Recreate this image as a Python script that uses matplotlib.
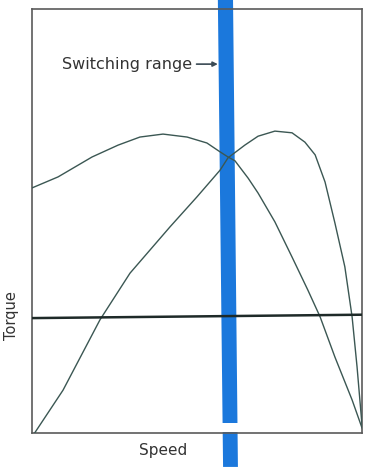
import matplotlib.pyplot as plt

# curves (speed 0..1, torque 0..1)
speed_a = [0.0, 0.079, 0.182, 0.261, 0.327, 0.397, 0.470, 0.530, 0.570, 0.594, 0.615,
           0.655, 0.685, 0.736, 0.788, 0.836, 0.873, 0.918, 0.970, 1.0]
torque_a = [0.578, 0.604, 0.651, 0.679, 0.698, 0.705, 0.698, 0.684, 0.663, 0.651, 0.642,
            0.601, 0.566, 0.498, 0.415, 0.337, 0.274, 0.179, 0.078, 0.012]

speed_b = [0.008, 0.094, 0.206, 0.297, 0.418, 0.500, 0.570, 0.594, 0.645, 0.685, 0.736,
           0.788, 0.827, 0.858, 0.888, 0.918, 0.948, 0.970, 0.985, 1.0]
torque_b = [0.0, 0.101, 0.267, 0.377, 0.486, 0.557, 0.620, 0.649, 0.679, 0.700, 0.712,
            0.708, 0.686, 0.656, 0.592, 0.495, 0.392, 0.274, 0.156, 0.019]

load_speed = [0.0, 1.0]
load_torque = [0.271, 0.279]

# switching range band (edges at top and bottom)
switch_y = [1.035, -0.08]
switch_left = [0.563, 0.579]
switch_right = [0.609, 0.624]

line_col = '#3b5753'
fig = plt.figure(figsize=(3.65, 4.67), dpi=100)
ax = fig.add_axes([32 / 365, 34 / 467, 330 / 365, 424 / 467])
ax.set_xlim(0, 1)
ax.set_ylim(0, 1)

blue = '#1b78dc'
ax.fill_betweenx(switch_y, switch_left, switch_right, color=blue, clip_on=False, zorder=1, lw=0)
# small white gap just above the speed axis
ax.fill_betweenx([0.023, 0.003], [0.55, 0.55], [0.64, 0.64], color='white', zorder=1.5, lw=0, clip_on=False)

ax.plot(speed_a, torque_a, color=line_col, lw=1.0, zorder=3)
ax.plot(speed_b, torque_b, color=line_col, lw=1.0, zorder=3)
ax.plot(load_speed, load_torque, color='#1e2a28', lw=1.8, zorder=3)

for s in ax.spines.values():
    s.set_color('#5a5a5a')
    s.set_linewidth(1.2)
ax.set_xticks([])
ax.set_yticks([])

ax.set_xlabel('Speed', fontsize=11, color='#333333')
ax.xaxis.set_label_coords(0.397, -0.024)
ax.set_ylabel('Torque', fontsize=10.5, color='#333333')
ax.yaxis.set_label_coords(-0.038, 0.278)

ax.annotate('Switching range', xy=(0.563, 0.870), xytext=(0.486, 0.870),
            textcoords='data', ha='right', va='center', fontsize=11.5, color='#333333',
            arrowprops=dict(arrowstyle='-|>', color='#3a4a55', lw=1.2, mutation_scale=7,
                            shrinkA=1, shrinkB=0))

plt.savefig('out.png', dpi=100)
